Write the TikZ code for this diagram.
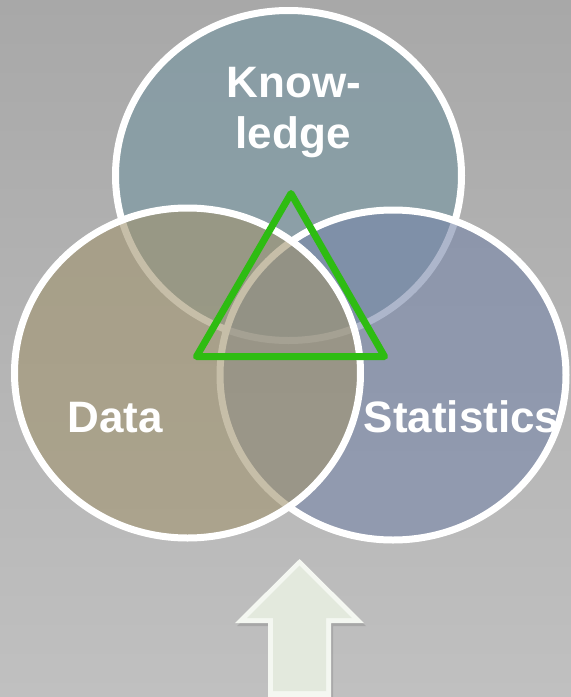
\documentclass[tikz,border=0pt]{standalone}
\usepackage{fontspec}
\setmainfont{Liberation Sans}
\usetikzlibrary{shapes.geometric,shadows}
\definecolor{bgtop}{RGB}{168,168,168}
\definecolor{bgbot}{RGB}{192,192,192}
\definecolor{knowfill}{RGB}{116,149,161}
\definecolor{datafill}{RGB}{161,148,111}
\definecolor{statfill}{RGB}{119,134,169}
\definecolor{trigreen}{RGB}{46,188,18}
\definecolor{arrowmain}{RGB}{227,233,221}
\definecolor{arrowlight}{RGB}{244,247,241}

\begin{document}
\begin{tikzpicture}[x=1pt,y=-1pt,
		venn/.style={ellipse,draw=white,line width=7pt,fill opacity=0.6,
			minimum width=346pt,minimum height=330pt,inner sep=0pt},
		lbl/.style={text=white,font=\fontsize{44}{50}\selectfont\bfseries,
			inner sep=0pt,anchor=base}]
	\useasboundingbox (0,0) rectangle (571,697);
	\shade[top color=bgtop,bottom color=bgbot] (0,0) rectangle (571,697);
	%
	\node [venn,fill=knowfill] (know) at (288.5,175.5) {};
	\node [venn,fill=statfill] (stat) at (393,375) {};
	\node [venn,fill=datafill] (data) at (187.5,373) {};
	%
	\node [lbl] (knowa) at (294,97) {Know-};
	\node [lbl] (knowb) at (293,148) {ledge};
	\node [lbl] (datalbl) at (115,432) {Data};
	\node [lbl] (statlbl) at (461.5,432) {Statistics};
	%
	\draw [trigreen,line width=7pt,line join=round]
		(291,193.5) -- (196.5,356.5) -- (384.5,356.5) -- cycle;
	%
	\fill [arrowlight,drop shadow={opacity=0.35,shadow xshift=2pt,shadow yshift=-3pt}]
		(299.5,559) -- (364,623) -- (331,623) -- (331,697) -- (268,697)
		-- (268,623) -- (235,623) -- cycle;
	\fill [arrowmain]
		(299.5,565.5) -- (352,618) -- (326,618) -- (326,691) -- (273,691)
		-- (273,618) -- (247,618) -- cycle;
\end{tikzpicture}
\end{document}
